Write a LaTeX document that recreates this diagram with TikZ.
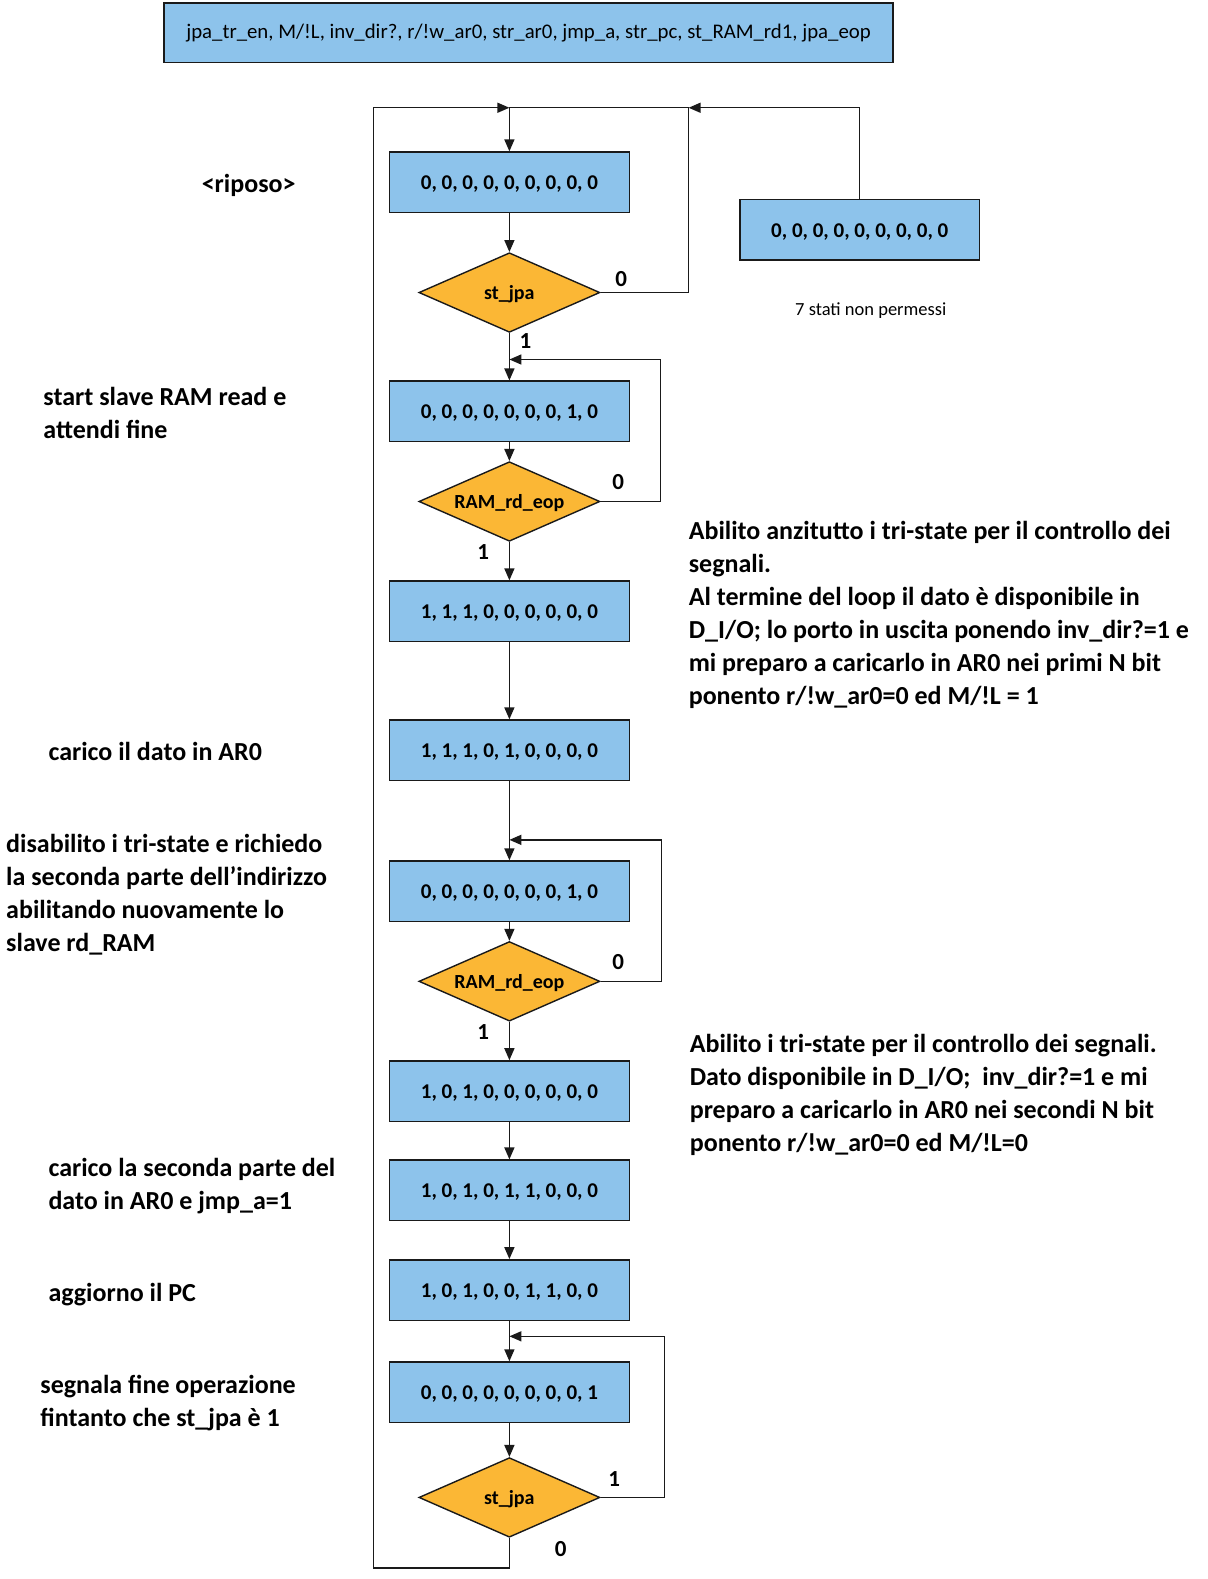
\documentclass[tikz,border=0pt]{standalone}
\usepackage{fontspec}
\setmainfont{Carlito}
\usetikzlibrary{shapes.geometric,arrows.meta}
\definecolor{boxblue}{HTML}{8DC3EB}
\definecolor{diaorange}{HTML}{FBB735}
\definecolor{edge}{HTML}{1A1A1A}
\tikzset{
  statebox/.style={draw=edge,line width=1.4pt,fill=boxblue,minimum width=239.6pt,minimum height=60.4pt,inner sep=0pt,text height=15pt,text depth=0pt,font=\fontsize{21}{24}\selectfont\bfseries},
  decision/.style={diamond,draw=edge,line width=1.4pt,fill=diaorange,minimum width=181pt,minimum height=79.6pt,inner sep=0pt,aspect=2.27,text height=14pt,text depth=0pt,font=\fontsize{20}{23}\selectfont\bfseries},
  sidetext/.style={anchor=north west,align=left,inner sep=0pt,font=\fontsize{26}{33}\selectfont\bfseries},
  branch/.style={font=\fontsize{23}{26}\selectfont\bfseries,inner sep=0pt},
  wire/.style={draw=edge,line width=1.5pt},
  arr/.style={wire,-{Triangle[length=12pt,width=10pt]}},
}
\begin{document}
\begin{tikzpicture}[x=1.0067pt,y=-1.007pt]
\useasboundingbox (0,0) rectangle (1199,1568);
% header
\node[draw=edge,line width=1.4pt,fill=boxblue,minimum width=728.8pt,minimum height=59.4pt,inner sep=0pt,font=\fontsize{20.8}{24}\selectfont] (hdr) at (525,32.5) {jpa\_tr\_en, M/!L, inv\_dir?, r/!w\_ar0, str\_ar0, jmp\_a, str\_pc, st\_RAM\_rd1, jpa\_eop};

% states
\node[statebox] (b1) at (506,181) {0, 0, 0, 0, 0, 0, 0, 0, 0};
\node[decision] (d1) at (506,290.5) {st\_jpa};
\node[statebox] (rb) at (854,228) {0, 0, 0, 0, 0, 0, 0, 0, 0};
\node[statebox] (b2) at (506,408.5) {0, 0, 0, 0, 0, 0, 0, 1, 0};
\node[decision] (d2) at (506,498) {RAM\_rd\_eop};
\node[statebox] (b3) at (506,607) {1, 1, 1, 0, 0, 0, 0, 0, 0};
\node[statebox] (b4) at (506,745) {1, 1, 1, 0, 1, 0, 0, 0, 0};
\node[statebox] (b5) at (506,885) {0, 0, 0, 0, 0, 0, 0, 1, 0};
\node[decision] (d3) at (506,974.5) {RAM\_rd\_eop};
\node[statebox] (b6) at (506,1083.5) {1, 0, 1, 0, 0, 0, 0, 0, 0};
\node[statebox] (b7) at (506,1182) {1, 0, 1, 0, 1, 1, 0, 0, 0};
\node[statebox] (b8) at (506,1281) {1, 0, 1, 0, 0, 1, 1, 0, 0};
\node[statebox] (b9) at (506,1382.5) {0, 0, 0, 0, 0, 0, 0, 0, 1};
\node[decision] (d4) at (506,1487) {st\_jpa};

% helper coordinates
\coordinate (topM) at (506,107);
\coordinate (topR) at (684,107);
\coordinate (topL) at (371,107);
\coordinate (botL) at (371,1557);
\coordinate (botM) at (506,1557);
\coordinate (j1) at (506,357);
\coordinate (j2) at (506,834);
\coordinate (j3) at (506,1327);

% connectors
\draw[arr] (topM) -- (b1.north);
\draw[arr] (b1.south) -- (d1.north);
\draw[wire] (d1.east) -| (topR) -- (topM);
\draw[arr] (rb.north) |- (topR);
\draw[arr] (d1.south) -- (b2.north);
\draw[arr] (b2.south) -- (d2.north);
\draw[arr] (d2.east) -| (656,357) -- (j1);
\draw[arr] (d2.south) -- (b3.north);
\draw[arr] (b3.south) -- (b4.north);
\draw[arr] (b4.south) -- (b5.north);
\draw[arr] (b5.south) -- (d3.north);
\draw[arr] (d3.east) -| (657,834) -- (j2);
\draw[arr] (d3.south) -- (b6.north);
\draw[arr] (b6.south) -- (b7.north);
\draw[arr] (b7.south) -- (b8.north);
\draw[arr] (b8.south) -- (b9.north);
\draw[arr] (b9.south) -- (d4.north);
\draw[arr] (d4.east) -| (660,1327) -- (j3);
\draw[arr] (d4.south) -- (botM) -- (botL) -- (topL) -- (topM);

% branch labels
\node[branch] (l1) at (617,277) {0};
\node[branch] (l2) at (522,339) {1};
\node[branch] (l3) at (614,479) {0};
\node[branch] (l4) at (480,548) {1};
\node[branch] (l5) at (614,955) {0};
\node[branch] (l6) at (480,1025) {1};
\node[branch] (l7) at (610,1469) {1};
\node[branch] (l8) at (557,1538) {0};

% annotations
\node[inner sep=0pt,font=\fontsize{18.5}{22}\selectfont] (t7) at (865,308) {7 stati non permessi};
\node[inner sep=0pt,font=\fontsize{26}{33}\selectfont\bfseries] (tr) at (247,184) {<riposo>};
\node[sidetext] (s1) at (43,384) {start slave RAM read e\\attendi fine};
\node[sidetext] (s2) at (48,737) {carico il dato in AR0};
\node[sidetext] (s3) at (6,828) {disabilito i tri-state e richiedo\\la seconda parte dell'indirizzo\\abilitando nuovamente lo\\slave rd\_RAM};
\node[sidetext] (s4) at (48,1150) {carico la seconda parte del\\dato in AR0 e jmp\_a=1};
\node[sidetext] (s5) at (48,1274) {aggiorno il PC};
\node[sidetext] (s6) at (40,1365) {segnala fine operazione\\fintanto che st\_jpa è 1};
\node[sidetext] (r1) at (684,517) {Abilito anzitutto i tri-state per il controllo dei\\segnali.\\Al termine del loop il dato è disponibile in\\D\_I/O; lo porto in uscita ponendo inv\_dir?=1 e\\mi preparo a caricarlo in AR0 nei primi N bit\\ponento r/!w\_ar0=0 ed M/!L = 1};
\node[sidetext] (r2) at (685,1027) {Abilito i tri-state per il controllo dei segnali.\\Dato disponibile in D\_I/O;\ \ inv\_dir?=1 e mi\\preparo a caricarlo in AR0 nei secondi N bit\\ponento r/!w\_ar0=0 ed M/!L=0};
\end{tikzpicture}
\end{document}
